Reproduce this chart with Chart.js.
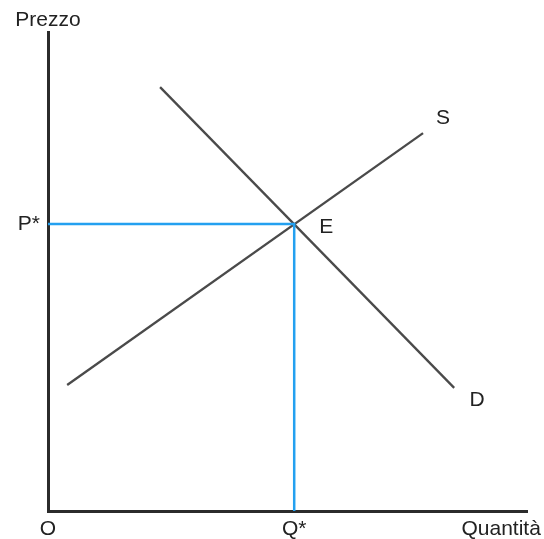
<!DOCTYPE html>
<html>
<head>
<meta charset="utf-8">
<script src="https://cdn.jsdelivr.net/npm/chart.js@4"></script>
<style>
    body { margin: 0; background: #fff; }
    #wrap { width: 544px; height: 539px; position: relative; }
</style>
</head>
<body>
<div id="wrap"><canvas id="marketChart"></canvas></div>
<script>
// Supply and demand curves (quantity, price), axes run 0..100
const supplyQ = [4.0, 78.3];
const supplyP = [26.3, 78.9];
const demandQ = [23.4, 84.8];
const demandP = [88.5, 25.7];

// Equilibrium point E
const qStar = 51.4;
const pStar = 59.9;

// Axis tick labels
const xTickValues = [0, qStar, 94.6];
const xTickLabels = ['O', 'Q*', 'Quantità'];
const yTickValues = [pStar];
const yTickLabels = ['P*'];

const FONT = { family: 'Liberation Sans, Arial, sans-serif', size: 21 };

const toPoints = (xs, ys) => xs.map((x, i) => ({ x: x, y: ys[i] }));

// Draw the curve names and the axis title
const curveLabels = {
    id: 'curveLabels',
    afterDatasetsDraw(chart) {
        const ctx = chart.ctx;
        const xs = chart.scales.x;
        const ys = chart.scales.y;
        const px = v => xs.getPixelForValue(v);
        const py = v => ys.getPixelForValue(v);
        ctx.save();
        ctx.font = `${FONT.size}px ${FONT.family}`;
        ctx.fillStyle = '#222';
        ctx.textAlign = 'center';
        ctx.textBaseline = 'middle';
        ctx.fillText('Prezzo', px(0), chart.chartArea.top - 12);
        ctx.fillText('S', px(supplyQ[1]) + 20, py(supplyP[1]) - 15);
        ctx.fillText('D', px(demandQ[1]) + 23, py(demandP[1]) + 12);
        ctx.fillText('E', px(qStar) + 32, py(pStar) + 3);
        ctx.restore();
    }
};

const lineStyle = { borderColor: '#4a4a4a', borderWidth: 2.3, pointRadius: 0, showLine: true, fill: false };

new Chart(document.getElementById('marketChart').getContext('2d'), {
    type: 'scatter',
    data: {
        datasets: [
            {
                label: 'P* / Q*',
                data: [{ x: 0, y: pStar }, { x: qStar, y: pStar }, { x: qStar, y: 0 }],
                borderColor: '#23a0f0',
                borderWidth: 2.5,
                pointRadius: 0,
                showLine: true,
                fill: false
            },
            Object.assign({ label: 'S', data: toPoints(supplyQ, supplyP) }, lineStyle),
            Object.assign({ label: 'D', data: toPoints(demandQ, demandP) }, lineStyle)
        ]
    },
    options: {
        responsive: true,
        maintainAspectRatio: false,
        animation: false,
        layout: { padding: { top: 32, right: 17, left: 0, bottom: 0 } },
        plugins: {
            legend: { display: false },
            tooltip: { enabled: false }
        },
        scales: {
            x: {
                type: 'linear',
                min: 0,
                max: 100,
                grid: { display: false, drawTicks: false },
                border: { display: true, color: '#2b2b2b', width: 3 },
                afterBuildTicks: scale => { scale.ticks = xTickValues.map(v => ({ value: v })); },
                afterFit: scale => {
                    scale.height = 28;
                    scale.paddingLeft = 0;
                    scale.paddingRight = 0;
                },
                ticks: {
                    autoSkip: false,
                    maxRotation: 0,
                    padding: 6,
                    color: '#222',
                    font: FONT,
                    callback: (v, i) => xTickLabels[i]
                }
            },
            y: {
                type: 'linear',
                min: 0,
                max: 100,
                grid: { display: false, drawTicks: false },
                border: { display: true, color: '#2b2b2b', width: 3 },
                afterBuildTicks: scale => { scale.ticks = yTickValues.map(v => ({ value: v })); },
                afterFit: scale => {
                    scale.width = 48;
                    scale.paddingTop = 0;
                    scale.paddingBottom = 0;
                },
                ticks: {
                    autoSkip: false,
                    padding: 8,
                    color: '#222',
                    font: FONT,
                    callback: (v, i) => yTickLabels[i]
                }
            }
        }
    },
    plugins: [curveLabels]
});
</script>
</body>
</html>
